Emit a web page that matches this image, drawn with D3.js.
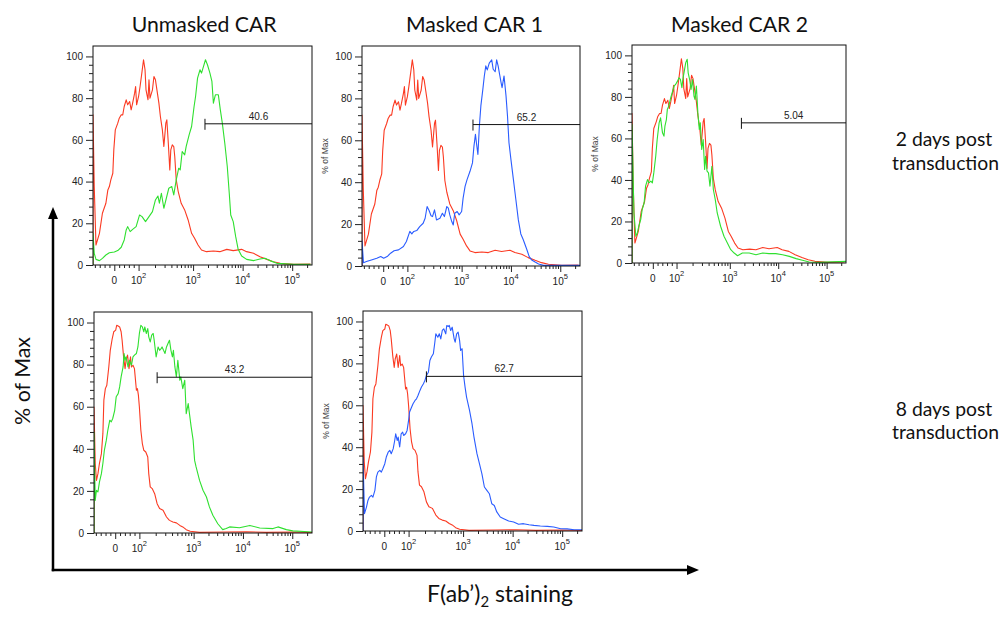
<!DOCTYPE html>
<html><head><meta charset="utf-8">
<script src="https://cdn.jsdelivr.net/npm/d3@7"></script>
<style>body{margin:0;background:#fff} svg{display:block}</style>
</head><body>
<svg id="c" width="1003" height="618"></svg>
<script>
// ---------------- DATA ----------------
// x values are in display units of the biexponential axis (10^3 -> 3, 10^4 -> 4 ...), y in % of Max
const colTitles = ["Unmasked CAR", "Masked CAR 1", "Masked CAR 2"];
const rowLabels = [["2 days post", "transduction"], ["8 days post", "transduction"]];
const yAxisTitle = "% of Max";
const panelYLabel = "% of Max";
const xTickRaw = [0, 100, 1000, 10000, 100000];
const xTickBase = ["0", "10", "10", "10", "10"];
const xTickExp = ["", "2", "3", "4", "5"];
const yTicks = [0, 20, 40, 60, 80, 100];
const gateStart = [3.24, 3.23, 3.24, 2.26, 2.26];
const gateLevel = [67.7, 67.5, 67.5, 74, 73.8];
const gateLabels = ["40.6", "65.2", "5.04", "43.2", "62.7"];

const ctrlDay2 = [[0.98,0],[0.98,72],[1.005,37.6],[1.04,9.6],[1.11,15.2],[1.17,24.8],[1.24,29.6],[1.28,36],[1.31,37.6],[1.34,40.8],[1.38,44],[1.40,55.2],[1.43,64.8],[1.48,68],[1.51,70.4],[1.55,72],[1.58,72],[1.61,76],[1.65,79.2],[1.68,76.8],[1.72,78.4],[1.75,74.4],[1.78,77.6],[1.82,82.4],[1.84,85.6],[1.86,76.8],[1.90,80.8],[1.93,85.6],[1.97,92.8],[2.00,98.4],[2.03,93.6],[2.05,84],[2.09,79.2],[2.11,88.8],[2.13,80],[2.18,84],[2.21,90.4],[2.24,88.8],[2.27,84],[2.31,77.6],[2.34,71.2],[2.38,64.8],[2.41,56.8],[2.45,68],[2.47,69.6],[2.50,58.4],[2.53,45.6],[2.55,55.2],[2.58,57.6],[2.61,56.8],[2.63,52],[2.66,40.8],[2.70,35.2],[2.76,29.6],[2.83,26.4],[2.90,21.6],[2.97,15.2],[3.03,12.8],[3.10,9.6],[3.17,7.2],[3.27,6.4],[3.41,6.7],[3.54,6.4],[3.68,7.5],[3.81,6.9],[3.98,7.5],[4.08,6.4],[4.22,5.6],[4.35,4],[4.49,2.7],[4.62,1.6],[4.76,0.8],[5.03,0.3],[5.37,0.5]];

const unmaskedDay2 = [[0.98,0],[0.98,15.2],[1.005,5.6],[1.04,2.7],[1.11,2.1],[1.17,3.2],[1.24,4.8],[1.31,5.9],[1.41,6.2],[1.48,6.9],[1.55,8.5],[1.61,12],[1.65,16.8],[1.68,18.4],[1.73,16],[1.78,17.1],[1.85,18.4],[1.92,24],[1.97,23.2],[2.04,20.8],[2.11,23.2],[2.18,25.6],[2.24,31.2],[2.29,33.1],[2.32,29.6],[2.36,34.4],[2.41,27.2],[2.46,32],[2.51,36.8],[2.57,37.6],[2.61,33.6],[2.66,40.8],[2.71,46.4],[2.74,45.6],[2.78,54.4],[2.83,52.8],[2.86,56.8],[2.92,62.4],[2.97,66.4],[3.02,76],[3.05,80.8],[3.09,89.6],[3.14,93.6],[3.17,92],[3.20,94.4],[3.25,98.4],[3.29,96],[3.34,92],[3.38,88],[3.41,77.6],[3.45,81.6],[3.51,81.6],[3.55,74.4],[3.59,68],[3.64,58.4],[3.69,47.2],[3.73,34.4],[3.76,24],[3.81,20.8],[3.86,13.6],[3.91,7.5],[3.98,4.3],[4.08,2.7],[4.22,2.1],[4.35,2.9],[4.45,3.2],[4.55,2.1],[4.69,0.8],[5.03,0.3],[5.37,0.3]];

const masked1Day2 = [[0.98,0],[0.98,12],[1.01,1.6],[1.07,2.1],[1.17,2.9],[1.28,3.7],[1.36,4.5],[1.42,3.7],[1.49,4.5],[1.56,6.1],[1.63,7.3],[1.72,7.7],[1.82,9.3],[1.88,11.7],[1.95,16.5],[1.99,15.3],[2.03,16.5],[2.09,16.9],[2.15,18.8],[2.22,20.4],[2.26,22.8],[2.30,28.4],[2.34,26.5],[2.38,24],[2.41,23.6],[2.45,26.8],[2.49,22],[2.56,22.8],[2.61,25.2],[2.65,23.6],[2.70,28.4],[2.73,27.6],[2.76,24.4],[2.80,21.2],[2.83,19.6],[2.86,25.2],[2.91,26],[2.95,24.4],[3.00,26],[3.03,32.4],[3.07,38],[3.11,41.2],[3.17,45.2],[3.22,49.2],[3.25,57.2],[3.28,62.8],[3.30,58.8],[3.33,53.2],[3.36,66.8],[3.39,76.4],[3.43,84.3],[3.46,90.7],[3.49,95.5],[3.52,93.6],[3.56,96.8],[3.61,98.4],[3.64,93.9],[3.68,92.7],[3.71,98.4],[3.74,95.5],[3.77,91.5],[3.80,87.5],[3.82,85.1],[3.86,90.7],[3.90,81.2],[3.93,71.6],[3.96,58.8],[4.00,50.8],[4.05,41.2],[4.10,31.6],[4.15,22],[4.20,15.3],[4.25,12.5],[4.32,8],[4.37,4.5],[4.42,2.9],[4.49,1.9],[4.56,1],[4.66,0.3],[5.40,0.3]];

const masked2Day2 = [[0.98,0],[0.98,66.7],[1.02,24.1],[1.06,12.9],[1.09,14.5],[1.12,17.7],[1.16,20.9],[1.19,25.7],[1.23,28.9],[1.26,37],[1.30,40.2],[1.33,38.6],[1.37,39.4],[1.40,38.6],[1.43,43.4],[1.47,51.4],[1.50,59.5],[1.54,67.5],[1.57,69.9],[1.61,62.7],[1.64,61.1],[1.66,65.9],[1.69,69.1],[1.71,74],[1.74,75.6],[1.78,79.6],[1.81,82],[1.85,85.2],[1.88,86],[1.92,87.6],[1.95,89.2],[1.98,88.4],[2.01,84.4],[2.03,88.4],[2.06,92.4],[2.09,96.5],[2.12,98.1],[2.14,91.6],[2.17,88.4],[2.20,83.6],[2.23,88.4],[2.26,80.4],[2.28,78.8],[2.31,85.2],[2.34,72.3],[2.37,64.3],[2.39,67.5],[2.42,54.7],[2.45,59.5],[2.48,45],[2.50,51.4],[2.53,44.2],[2.56,43.4],[2.59,37],[2.63,46.6],[2.66,35.4],[2.70,30.5],[2.74,24.1],[2.81,17.7],[2.88,12.9],[2.95,9.6],[3.02,6.4],[3.09,4.8],[3.16,3.5],[3.26,4.8],[3.40,4.8],[3.54,4],[3.68,4.8],[3.81,4.5],[3.95,4.5],[4.09,4],[4.23,3.2],[4.37,2.1],[4.50,1.3],[4.64,0.5],[4.85,0.3],[5.40,0.8]];

const ctrlDay8 = [[0.98,0],[0.98,59.9],[1.005,33],[1.03,25],[1.06,28.2],[1.09,33],[1.13,37.7],[1.16,47.2],[1.18,63.1],[1.21,68.6],[1.24,70.2],[1.28,78.9],[1.31,86.8],[1.35,92.4],[1.38,95.6],[1.42,96.4],[1.44,98.7],[1.47,98.3],[1.50,97.9],[1.53,95.6],[1.55,91.6],[1.58,83.7],[1.61,78.1],[1.63,82.1],[1.66,84.5],[1.69,78.1],[1.72,83.7],[1.74,78.9],[1.77,79.7],[1.80,78.1],[1.84,67.8],[1.86,68.6],[1.88,65.5],[1.90,59.9],[1.93,48.8],[1.96,42.5],[1.99,39.3],[2.03,38.5],[2.07,36.1],[2.09,28.2],[2.12,21.9],[2.16,21.1],[2.21,18.7],[2.26,13.9],[2.31,11.6],[2.38,10.8],[2.45,7.6],[2.51,6],[2.58,5.2],[2.65,4.8],[2.72,3.6],[2.78,2.9],[2.85,1.6],[2.93,0.8],[3.12,0.3],[3.66,0.5],[4.07,0.6],[4.47,0.3],[5.01,0.5],[5.40,0.2]];

const unmaskedDay8 = [[0.98,0],[0.98,48],[1.005,15.5],[1.03,20.3],[1.06,19.5],[1.09,24.2],[1.13,28.2],[1.16,33],[1.19,39.3],[1.23,44.1],[1.26,48.8],[1.30,53.6],[1.33,52.8],[1.36,54.4],[1.40,58.3],[1.43,64.7],[1.47,66.2],[1.50,69.4],[1.53,74.2],[1.57,78.9],[1.59,85.3],[1.61,82.1],[1.63,83.7],[1.67,78.9],[1.70,82.1],[1.74,79.7],[1.77,83.7],[1.80,84.5],[1.84,85.3],[1.87,88.4],[1.90,94.8],[1.93,98.7],[1.96,97.9],[1.99,95.6],[2.01,97.9],[2.04,94.8],[2.07,97.1],[2.09,93.2],[2.12,90.8],[2.15,94],[2.18,94.8],[2.20,91.6],[2.24,83.7],[2.28,88.4],[2.31,86.8],[2.34,87.6],[2.36,88.4],[2.39,86.8],[2.42,85.3],[2.45,88.4],[2.48,90],[2.51,91.6],[2.54,86.8],[2.57,83.7],[2.59,86.8],[2.62,78.9],[2.65,74.2],[2.68,82.1],[2.72,72.6],[2.74,74.2],[2.78,68.6],[2.82,72.6],[2.85,56.7],[2.89,61.5],[2.92,55.9],[2.95,50.4],[2.99,44.1],[3.02,34.5],[3.05,31.4],[3.12,25],[3.19,20.3],[3.26,17.1],[3.32,12.4],[3.39,8.4],[3.49,4.4],[3.59,1.6],[3.66,2.1],[3.73,2.9],[3.93,2.5],[4.14,3.6],[4.34,2.4],[4.61,2.1],[4.71,2.9],[4.88,1.6],[5.01,1],[5.40,0.5]];

const masked1Day8 = [[0.98,0],[0.98,35],[1.01,8.3],[1.05,11.4],[1.08,14.6],[1.11,16.2],[1.15,17],[1.18,16.2],[1.22,19.4],[1.25,25.8],[1.28,28.1],[1.32,28.9],[1.35,28.1],[1.38,29.7],[1.42,32.1],[1.45,35.3],[1.49,37.7],[1.52,38.5],[1.55,36.9],[1.59,39.3],[1.62,43.2],[1.64,46.4],[1.67,43.2],[1.69,44.8],[1.72,40.1],[1.75,46.4],[1.78,47.2],[1.80,45.6],[1.84,46.4],[1.87,48],[1.90,52.8],[1.92,56.8],[1.96,59.1],[1.99,60.7],[2.03,62.3],[2.06,63.1],[2.09,64.7],[2.13,67.1],[2.16,68.7],[2.20,70.3],[2.23,71.9],[2.26,74.2],[2.30,75.8],[2.33,81.4],[2.36,83],[2.40,84.6],[2.43,90.1],[2.45,94.1],[2.49,92.5],[2.52,94.1],[2.55,91.7],[2.58,95.7],[2.61,96.5],[2.65,94.1],[2.67,98.1],[2.70,97.6],[2.72,98.1],[2.75,95.7],[2.78,97.3],[2.82,91.7],[2.84,90.1],[2.87,94.1],[2.90,94.9],[2.93,90.9],[2.95,86.2],[2.98,87],[3.01,74.2],[3.04,68.7],[3.07,63.9],[3.13,57.6],[3.18,51.2],[3.22,44.8],[3.28,36.9],[3.33,32.1],[3.38,27.3],[3.43,21],[3.48,19.4],[3.53,17.8],[3.58,13],[3.63,12.2],[3.68,9.1],[3.75,6.7],[3.82,5.9],[3.92,4.8],[4.02,4.3],[4.12,3.2],[4.22,3.5],[4.33,3],[4.43,2.7],[4.56,2.4],[4.70,2.2],[4.83,1.9],[4.97,1.1],[5.10,1],[5.24,0.6],[5.40,0.6]];

// ---------------- LAYOUT / STYLE ----------------
const RED = "#fb3a22", GREEN = "#2fe02f", BLUE = "#2a5cff";
const xDomain = [0.98, 5.40], yDomain = [0, 105];
const layout = [
  {x0: 93,  x1: 312, y0: 46,  y1: 265, lab: false},
  {x0: 362, x1: 580, y0: 46,  y1: 266, lab: true},
  {x0: 632, x1: 846, y0: 45,  y1: 263, lab: true},
  {x0: 94,  x1: 312, y0: 312, y1: 533, lab: false},
  {x0: 363, x1: 582, y0: 311, y1: 531, lab: true}
];
const panelCurves = [
  [[ctrlDay2, RED], [unmaskedDay2, GREEN]],
  [[ctrlDay2, RED], [masked1Day2, BLUE]],
  [[ctrlDay2, RED], [masked2Day2, GREEN]],
  [[ctrlDay8, RED], [unmaskedDay8, GREEN]],
  [[ctrlDay8, RED], [masked1Day8, BLUE]]
];

// biexponential-like display transform of raw intensity -> display units
function toDisplay(v) {
  if (v >= 1000) return Math.log10(v);
  if (v >= 100) return 1.90 + 1.10 * Math.log10(v / 100);
  return 1.41 + 0.0049 * v;
}
const xMinorRaw = [-80,-60,-40,-20,20,40,60,80,200,300,400,500,600,700,800,900,
  2000,3000,4000,5000,6000,7000,8000,9000,20000,30000,40000,50000,60000,70000,80000,90000,200000];
const yMinor = d3.range(4, 100, 4).filter(v => v % 20 !== 0);

const svg = d3.select("#c");
const tickFont = "'Liberation Sans', Arial, sans-serif";
const bigFont = "Lato, 'Open Sans', sans-serif";

layout.forEach((L, i) => {
  const x = d3.scaleLinear().domain(xDomain).range([L.x0, L.x1]);
  const y = d3.scaleLinear().domain(yDomain).range([L.y1, L.y0]);
  const g = svg.append("g");
  const cid = "clip" + i;
  g.append("clipPath").attr("id", cid).append("rect")
    .attr("x", L.x0).attr("y", L.y0).attr("width", L.x1 - L.x0).attr("height", L.y1 - L.y0);

  const line = d3.line().x(d => x(d[0])).y(d => y(d[1]));
  const cg = g.append("g").attr("clip-path", `url(#${cid})`);
  panelCurves[i].forEach(([data, col]) => {
    cg.append("path").datum(data).attr("d", line)
      .attr("fill", "none").attr("stroke", col).attr("stroke-width", 1.1)
      .attr("stroke-linejoin", "round");
  });

  // box
  g.append("rect").attr("x", L.x0).attr("y", L.y0)
    .attr("width", L.x1 - L.x0).attr("height", L.y1 - L.y0)
    .attr("fill", "none").attr("stroke", "#111").attr("stroke-width", 1);

  // y axis
  const ya = g.append("g").attr("transform", `translate(${L.x0},0)`)
    .call(d3.axisLeft(y).tickValues(yTicks).tickSize(7).tickPadding(3).tickFormat(d3.format("d")));
  ya.select(".domain").remove();
  ya.selectAll("text").attr("font-family", tickFont).attr("font-size", 10).attr("fill", "#222");
  ya.selectAll("line").attr("stroke", "#222");
  const ym = g.append("g").attr("transform", `translate(${L.x0},0)`)
    .call(d3.axisLeft(y).tickValues(yMinor).tickSize(4).tickFormat(""));
  ym.select(".domain").remove();
  ym.selectAll("line").attr("stroke", "#222");

  // x axis
  const xa = g.append("g").attr("transform", `translate(0,${L.y1})`)
    .call(d3.axisBottom(x).tickValues(xTickRaw.map(toDisplay)).tickSize(6).tickFormat(""));
  xa.select(".domain").remove();
  xa.selectAll("line").attr("stroke", "#222");
  const xm = g.append("g").attr("transform", `translate(0,${L.y1})`)
    .call(d3.axisBottom(x).tickValues(xMinorRaw.map(toDisplay).filter(v => v <= xDomain[1])).tickSize(3).tickFormat(""));
  xm.select(".domain").remove();
  xm.selectAll("line").attr("stroke", "#222");

  xTickRaw.forEach((v, k) => {
    const t = g.append("text").attr("x", x(toDisplay(v))).attr("y", L.y1 + 19)
      .attr("text-anchor", "middle").attr("font-family", tickFont)
      .attr("font-size", 10).attr("fill", "#222");
    t.append("tspan").text(xTickBase[k]);
    if (xTickExp[k]) t.append("tspan").attr("font-size", 7.5).attr("dy", -6).text(xTickExp[k]);
  });

  if (L.lab) {
    g.append("text")
      .attr("transform", `translate(${L.x0 - 34},${(L.y0 + L.y1) / 2}) rotate(-90)`)
      .attr("text-anchor", "middle").attr("font-family", tickFont)
      .attr("font-size", 8.5).attr("fill", "#444").text(panelYLabel);
  }

  // gate
  const gy = y(gateLevel[i]), gx = x(gateStart[i]);
  g.append("line").attr("x1", gx).attr("x2", L.x1).attr("y1", gy).attr("y2", gy)
    .attr("stroke", "#111").attr("stroke-width", 1);
  g.append("line").attr("x1", gx).attr("x2", gx).attr("y1", gy - 5).attr("y2", gy + 6)
    .attr("stroke", "#111").attr("stroke-width", 1);
  g.append("text").attr("x", (gx + L.x1) / 2).attr("y", gy - 4)
    .attr("text-anchor", "middle").attr("font-family", tickFont)
    .attr("font-size", 10).attr("fill", "#222").text(gateLabels[i]);
});

function fit(t, w) {
  const l = t.node().getComputedTextLength();
  const fs = parseFloat(t.attr("font-size"));
  t.attr("font-size", (fs * w / l).toFixed(2));
  return fs * w / l;
}

// column titles
const titleX = [204.2, 474.5, 739.5], titleW = [145, 137, 137];
colTitles.forEach((s, k) => {
  const t = svg.append("text").attr("x", titleX[k]).attr("y", 32.3)
    .attr("text-anchor", "middle").attr("font-family", bigFont)
    .attr("font-size", 20).attr("fill", "#111").text(s);
  fit(t, titleW[k]);
});

// row labels
const rowBase = [[146, 169.5], [415.5, 439]];
rowLabels.forEach((lines, r) => {
  const t2 = svg.append("text").attr("x", 945.5).attr("y", rowBase[r][1])
    .attr("text-anchor", "middle").attr("font-family", bigFont)
    .attr("font-size", 18).attr("fill", "#111").text(lines[1]);
  const fs = fit(t2, 107);
  svg.append("text").attr("x", 944).attr("y", rowBase[r][0])
    .attr("text-anchor", "middle").attr("font-family", bigFont)
    .attr("font-size", fs.toFixed(2)).attr("fill", "#111").text(lines[0]);
});

// big axes arrows
svg.append("line").attr("x1", 53).attr("x2", 53).attr("y1", 571.2).attr("y2", 216)
  .attr("stroke", "#000").attr("stroke-width", 2.5);
svg.append("polygon").attr("points", "53,207 48,219 58,219").attr("fill", "#000");
svg.append("line").attr("x1", 51.75).attr("x2", 690).attr("y1", 570).attr("y2", 570)
  .attr("stroke", "#000").attr("stroke-width", 2.5);
svg.append("polygon").attr("points", "699,570 687,565 687,575").attr("fill", "#000");

const yt = svg.append("text").attr("transform", "translate(30,381) rotate(-90)")
  .attr("text-anchor", "middle").attr("font-family", bigFont)
  .attr("font-size", 22).attr("fill", "#111").text(yAxisTitle);
fit(yt, 88);

const xt = svg.append("text").attr("x", 500).attr("y", 602)
  .attr("text-anchor", "middle").attr("font-family", bigFont)
  .attr("font-size", 20).attr("fill", "#111");
xt.append("tspan").text("F(ab’)");
xt.append("tspan").attr("font-size", "0.65em").attr("dy", 5).text("2");
xt.append("tspan").attr("dy", -5).text(" staining");
fit(xt, 146);
</script>
</body></html>
